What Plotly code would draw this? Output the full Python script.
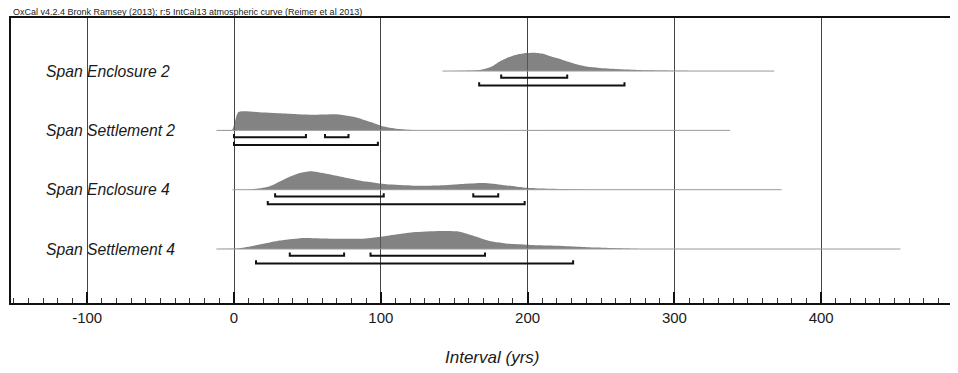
import plotly.graph_objects as go

# ---------------- data ----------------
labels = ["Span Enclosure 2", "Span Settlement 2", "Span Enclosure 4", "Span Settlement 4"]

# baseline (extent of the plotted distribution), years
E2_range = [142, 368]
S2_range = [-12, 338]
E4_range = [-1, 373]
S4_range = [-12, 454]

# density outlines (relative probability, 1 = peak)
E2_x = [142, 155, 167, 175, 181, 187, 193, 199, 204, 210, 215, 221, 227, 234, 240, 254, 275, 300, 330, 368]
E2_d = [0, 0.01, 0.05, 0.22, 0.52, 0.75, 0.9, 0.98, 1.0, 0.95, 0.82, 0.68, 0.52, 0.36, 0.25, 0.14, 0.06, 0.02, 0, 0]

S2_x = [-12, -1.5, 3, 20, 43, 56, 70, 84, 93, 101, 111, 122, 135, 338]
S2_d = [0, 0, 1.0, 0.97, 0.88, 0.85, 0.87, 0.69, 0.45, 0.23, 0.09, 0.02, 0, 0]

E4_x = [-1, 10, 24, 36, 45, 52, 63, 77, 90, 104, 122, 140, 156, 170, 183, 197, 210, 227, 250, 373]
E4_d = [0, 0, 0.18, 0.64, 0.91, 1.0, 0.87, 0.64, 0.44, 0.29, 0.22, 0.23, 0.31, 0.36, 0.26, 0.12, 0.06, 0.03, 0, 0]

S4_x = [-12, 4, 20, 31, 45, 65, 88, 106, 122, 140, 152, 163, 174, 188, 202, 224, 247, 270, 290, 454]
S4_d = [0, 0.04, 0.28, 0.46, 0.59, 0.56, 0.56, 0.74, 0.91, 0.98, 0.96, 0.72, 0.44, 0.28, 0.22, 0.17, 0.08, 0.02, 0, 0]

# highest posterior density ranges
E2_68 = [[182, 227]]
E2_95 = [[167, 266]]
S2_68 = [[0, 49], [62, 78]]
S2_95 = [[0, 98]]
E4_68 = [[28, 102], [163, 180]]
E4_95 = [[23, 198]]
S4_68 = [[38, 75], [93, 171]]
S4_95 = [[15, 231]]

tick_vals = [-100, 0, 100, 200, 300, 400]
tick_text = ["-100", "0", "100", "200", "300", "400"]
x_title = "Interval (yrs)"
header = "OxCal v4.2.4 Bronk Ramsey (2013); r:5 IntCal13 atmospheric curve (Reimer et al 2013)"

# ---------------- figure ----------------
series = [
    (E2_range, E2_x, E2_d, E2_68, E2_95),
    (S2_range, S2_x, S2_d, S2_68, S2_95),
    (E4_range, E4_x, E4_d, E4_68, E4_95),
    (S4_range, S4_x, S4_d, S4_68, S4_95),
]

H = 0.31        # peak height in row units
OFF68 = 0.115   # bracket offsets below baseline
OFF95 = 0.245
TK = 0.055      # bracket end-tick length

fig = go.Figure()
n = len(labels)
for i, (rng, xs, ds, r68, r95) in enumerate(series):
    y0 = n - 1 - i
    fig.add_trace(go.Scatter(
        x=[rng[0], rng[1]], y=[y0, y0], mode="lines",
        line=dict(color="#9a9a9a", width=1), hoverinfo="skip", showlegend=False))
    fig.add_trace(go.Scatter(
        x=xs, y=[y0 + H * d for d in ds], mode="lines",
        line=dict(color="rgba(0,0,0,0)", width=0, shape="spline", smoothing=0.5),
        fill="tonexty", fillcolor="rgba(90,90,90,0.75)",
        hoverinfo="skip", showlegend=False))
    bx, by = [], []
    for ranges, off in ((r68, OFF68), (r95, OFF95)):
        yb = y0 - off
        for a, b in ranges:
            bx += [a, a, b, b, None]
            by += [yb + TK, yb, yb, yb + TK, None]
    fig.add_trace(go.Scatter(
        x=bx, y=by, mode="lines", line=dict(color="#111111", width=2),
        hoverinfo="skip", showlegend=False))

PAGE = 8                      # browser body margin
W, HT = 958 - PAGE, 373 - PAGE
L, R, T, B = 11 - PAGE, 0, 18 - PAGE, 373 - 303
plot_w = W - L - R
FONT = "Liberation Sans, Arial, sans-serif"

annotations = []
for i, lab in enumerate(labels):
    annotations.append(dict(
        text=lab, xref="paper", x=(44 - 11) / plot_w, xanchor="left",
        yref="y", y=n - 1 - i, yanchor="middle", showarrow=False,
        font=dict(family=FONT, size=15.7, color="#1a1a1a", style="italic")))

annotations.append(dict(
    text=x_title, xref="paper", x=(492 - 11) / plot_w, xanchor="center",
    yref="paper", y=0, yanchor="middle", yshift=-54, showarrow=False,
    font=dict(family=FONT, size=17, color="#1a1a1a", style="italic")))
annotations.append(dict(
    text=header, xref="paper", x=(11 - 11) / plot_w, xanchor="left",
    yref="paper", y=1, yanchor="middle", yshift=6.5, showarrow=False,
    font=dict(family=FONT, size=9, color="#222222")))

fig.update_layout(
    width=W, height=HT,
    margin=dict(l=L, r=R, t=T, b=B, pad=0),
    paper_bgcolor="white", plot_bgcolor="white",
    annotations=annotations,
    showlegend=False,
)
fig.update_xaxes(
    range=[-(234 - 11) / 1.468, (958 - 234) / 1.468],
    tickmode="array", tickvals=tick_vals, ticktext=tick_text,
    ticks="inside", ticklen=11, tickwidth=2, tickcolor="#111111",
    minor=dict(dtick=10, tick0=0, ticks="inside", ticklen=5, tickwidth=1,
               tickcolor="#333333", showgrid=False),
    showgrid=True, gridcolor="#444444", gridwidth=1,
    showline=True, linecolor="#111111", linewidth=2, mirror=True,
    zeroline=False,
    tickfont=dict(family=FONT, size=15, color="#1a1a1a"),
    ticklabelstandoff=0,
    fixedrange=True,
)
fig.update_yaxes(
    range=[-0.91, 3.894],
    showgrid=False, zeroline=False, showticklabels=False, ticks="",
    showline=True, linecolor="#111111", linewidth=2, mirror=False,
    fixedrange=True,
)

fig.write_html("out.html")
